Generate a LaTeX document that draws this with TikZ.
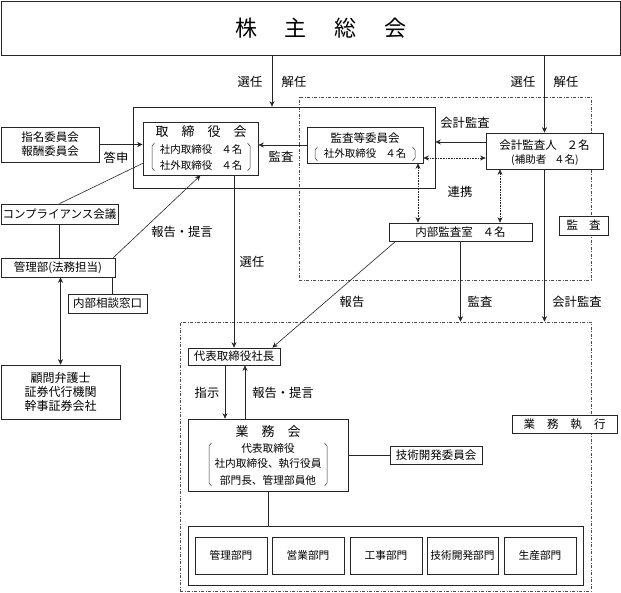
\documentclass[tikz,border=0pt]{standalone}
\usepackage{fontspec}
\setmainfont{Noto Sans CJK JP}
\usetikzlibrary{arrows.meta}
\tikzset{
  box/.style={draw=black!85, line width=0.7pt, inner sep=0pt, align=center, fill=white},
  lbl/.style={inner sep=0pt, align=center},
  elbl/.style={lbl, font=\fontsize{12.3}{14}\selectfont},
  ln/.style={draw=black!85, line width=0.6pt},
  arr/.style={ln, -{Stealth[length=5.5pt,width=5pt]}},
  darr/.style={ln, {Stealth[length=5.5pt,width=5pt]}-{Stealth[length=5.5pt,width=5pt]}},
  ddarr/.style={ln, densely dotted, {Stealth[length=5.5pt,width=5pt]}-{Stealth[length=5.5pt,width=5pt]}},
  ddbox/.style={draw=black!70, line width=0.7pt, dash pattern=on 3pt off 1.5pt on 1pt off 1.5pt, inner sep=0pt},
  brk/.style={draw=black!80, line width=0.5pt},
}
\newcommand\brkL[3]{\path[brk] ({#1+2.5},#2) -- (#1,{#2+3}) -- (#1,{#3-3}) -- ({#1+2.5},#3);}
\newcommand\brkR[3]{\path[brk] ({#1-2.5},#2) -- (#1,{#2+3}) -- (#1,{#3-3}) -- ({#1-2.5},#3);}
\begin{document}
\begin{tikzpicture}[x=1pt,y=-1pt,font=\fontsize{11.5}{14}\selectfont]
\useasboundingbox (0,0) rectangle (621,593);
\fill[white] (0,0) rectangle (621,593);

% dash-dot regions
\node[ddbox, minimum width=292pt, minimum height=183pt] (audit) at (445,188.5) {};
\node[ddbox, minimum width=411pt, minimum height=269pt] (exec) at (385.5,456.5) {};

% shareholders meeting
\node[box, minimum width=619pt, minimum height=54pt] (gm) at (310.5,28) {};
\node[lbl, font=\fontsize{22}{24}\selectfont] (gmt) at (321,28) {株\hspace{28pt}主\hspace{28pt}総\hspace{28pt}会};

% board region
\node[box, fill=none, minimum width=302pt, minimum height=81pt] (outer) at (284,147.5) {};
\node[box, minimum width=115pt, minimum height=53pt] (tb) at (200.5,148.5) {};
\node[lbl, font=\fontsize{13}{15}\selectfont] (tbt) at (201,132) {取\hspace{13pt}締\hspace{13pt}役\hspace{13pt}会};
\node[lbl, font=\fontsize{10.5}{12}\selectfont] (tb1) at (201,150) {社内取締役\hspace{9pt}４名};
\node[lbl, font=\fontsize{10.5}{12}\selectfont] (tb2) at (201,166) {社外取締役\hspace{9pt}４名};
\brkL{152}{143}{171}
\brkR{250}{143}{171}

\node[box, minimum width=98pt, minimum height=35pt] (nom) at (50,144.5) {指名委員会\\報酬委員会};
\node[box, minimum width=117pt, minimum height=20pt] (comp) at (59.5,214) {コンプライアンス会議};
\node[box, minimum width=114pt, minimum height=19pt] (kanri) at (58,267.5) {管理部(法務担当)};
\node[box, minimum width=79pt, minimum height=19pt] (soudan) at (107.5,303.5) {内部相談窓口};
\node[box, minimum width=119pt, minimum height=54pt, font=\fontsize{12}{14}\selectfont] (komon) at (60.5,392) {顧問弁護士\\証券代行機関\\幹事証券会社};

% audit committee
\node[box, minimum width=116pt, minimum height=36pt] (kiin) at (365,145) {};
\node[lbl] (kiint) at (365,138) {監査等委員会};
\node[lbl, font=\fontsize{10.5}{12}\selectfont] (kiin1) at (365,154) {社外取締役\hspace{9pt}４名};
\brkL{315}{147}{161}
\brkR{415}{147}{161}

\node[box, minimum width=117pt, minimum height=36pt] (kaikei) at (544.5,151) {};
\node[lbl] (kaikeit) at (544.5,145) {会計監査人\hspace{10pt}２名};
\node[lbl, font=\fontsize{10.5}{12}\selectfont] (kaikei1) at (545,160) {(補助者\hspace{8pt}４名)};

\node[box, minimum width=143pt, minimum height=18pt] (naibu) at (460.5,232) {内部監査室\hspace{10pt}４名};
\node[box, minimum width=49pt, minimum height=19pt] (kansalbl) at (583.5,225.5) {監\hspace{11pt}査};

% execution
\node[box, minimum width=105pt, minimum height=18pt] (gyolbl) at (564.5,424) {業\hspace{12pt}務\hspace{12pt}執\hspace{12pt}行};
\node[box, minimum width=92pt, minimum height=17pt] (daihyo) at (234,356.5) {代表取締役社長};
\node[box, minimum width=160pt, minimum height=72pt] (gyomukai) at (268,455) {};
\node[lbl, font=\fontsize{13}{15}\selectfont] (gyt) at (268,432) {業\hspace{13pt}務\hspace{13pt}会};
\node[lbl, font=\fontsize{10.7}{12}\selectfont] (gy1) at (268,448) {代表取締役};
\node[lbl, font=\fontsize{10.7}{12}\selectfont] (gy2) at (268,464) {社内取締役、執行役員};
\node[lbl, font=\fontsize{10.7}{12}\selectfont] (gy3) at (268,480) {部門長、管理部員他};
\brkL{209}{443}{486}
\brkR{327}{443}{486}

\node[box, minimum width=92pt, minimum height=18pt] (gijutsu) at (436,455) {技術開発委員会};
\node[box, minimum width=395pt, minimum height=59pt] (dept) at (385.5,555.5) {};
\begin{scope}[every node/.style={box, minimum height=37pt, font=\fontsize{10.7}{12}\selectfont}]
\node[minimum width=72pt] (d1) at (231,555.5) {管理部門};
\node[minimum width=72pt] (d2) at (308,555.5) {営業部門};
\node[minimum width=72pt] (d3) at (386,555.5) {工事部門};
\node[minimum width=71pt] (d4) at (462.5,555.5) {技術開発部門};
\node[minimum width=72pt] (d5) at (540,555.5) {生産部門};
\end{scope}

% helper coordinates
\coordinate (x272) at (272,0);
\coordinate (x112) at (112,0);
\coordinate (x418) at (418,0);
\coordinate (x500) at (500,0);
\coordinate (x225) at (225,0);
\coordinate (x245) at (245,0);
\coordinate (y142) at (0,142);
\coordinate (y158) at (0,158);

% connectors
\draw[arr] (gm.south -| x272) -- (outer.north -| x272);
\draw[arr] (gm.south -| kaikei.north) -- (kaikei.north);
\draw[arr] (nom.east) -- (nom.east -| tb.west);
\draw[ln] ([yshift=12pt]tb.south west) -- (comp.north);
\draw[ln] (comp.south) -- (comp.south |- kanri.north);
\draw[arr] ([xshift=-2pt]kanri.north east) -- (tb.south);
\draw[ln] (kanri.south -| x112) -- (soudan.north -| x112);
\draw[darr] (komon.north) -- (komon.north |- kanri.south);
\draw[arr] (daihyo.north |- tb.south) -- (daihyo.north);
\draw[arr] (kiin.west) -- (kiin.west -| tb.east);
\draw[arr] (kaikei.west |- y142) -- (outer.east |- y142);
\draw[ddarr] (kiin.east |- y158) -- (kaikei.west |- y158);
\draw[ddarr] (kiin.south -| x418) -- (naibu.north -| x418);
\draw[ddarr] (kaikei.south -| x500) -- (naibu.north -| x500);
\draw[arr] (naibu.south) -- (naibu.south |- exec.north);
\draw[arr] (kaikei.south) -- (kaikei.south |- exec.north);
\draw[arr] ([xshift=7pt]naibu.south west) -- ([xshift=-8pt]daihyo.north east);
\draw[arr] (daihyo.south -| x225) -- (gyomukai.north -| x225);
\draw[arr] (gyomukai.north -| x245) -- (daihyo.south -| x245);
\draw[ln] (gyomukai.east |- gijutsu.west) -- (gijutsu.west);
\draw[ln] (gyomukai.south) -- (gyomukai.south |- dept.north);

% labels
\node[elbl] (l1) at (250,82) {選任};
\node[elbl] (l2) at (294,82) {解任};
\node[elbl] (l3) at (523,82) {選任};
\node[elbl] (l4) at (566,82) {解任};
\node[elbl] (l5) at (116,158) {答申};
\node[elbl] (l6) at (281,157) {監査};
\node[elbl] (l7) at (465,123) {会計監査};
\node[elbl] (l8) at (460,192) {連携};
\node[elbl] (l9) at (182,232) {報告・提言};
\node[elbl] (l10) at (252,262) {選任};
\node[elbl] (l11) at (352,302) {報告};
\node[elbl] (l12) at (480,302) {監査};
\node[elbl] (l13) at (577,302) {会計監査};
\node[elbl] (l14) at (207,393) {指示};
\node[elbl] (l15) at (283,393) {報告・提言};
\end{tikzpicture}
\end{document}
